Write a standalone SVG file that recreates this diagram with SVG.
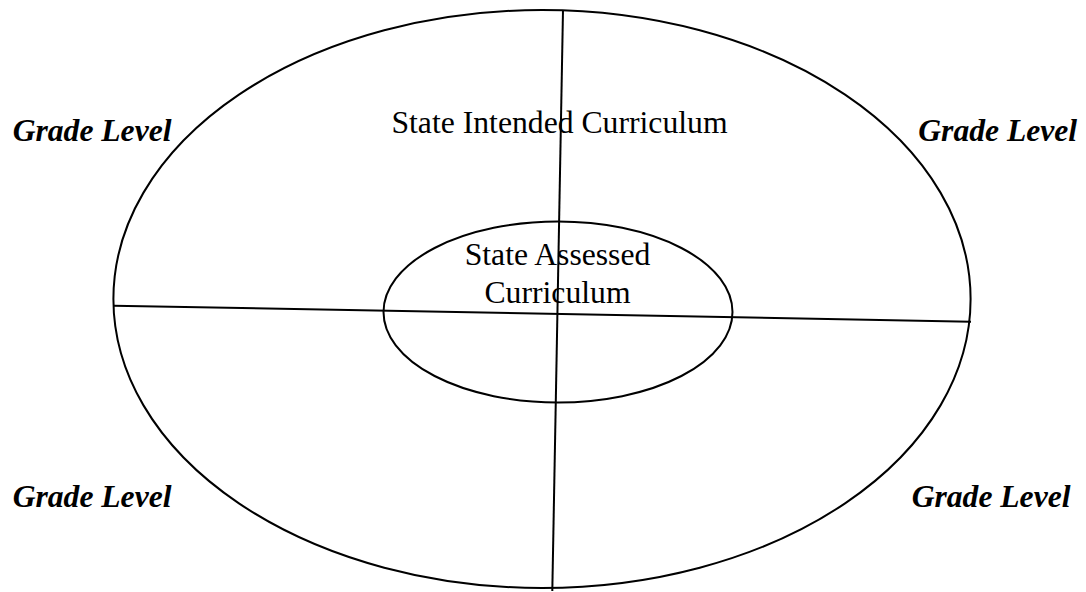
<svg xmlns="http://www.w3.org/2000/svg" width="1086" height="592" viewBox="0 0 1086 592">
<style>
.shape{fill:none;stroke:#000;stroke-width:2}
.lbl{font-family:"Liberation Serif","Times New Roman",serif;font-size:31.7px;fill:#000}
.grade{font-family:"Liberation Serif","Times New Roman",serif;font-size:31.6px;font-weight:bold;font-style:italic;fill:#000}
</style>
<rect width="1086" height="592" fill="#fff"/>
<g id="outer">
<ellipse class="shape" cx="542" cy="299" rx="428.6" ry="289"/>
<text class="lbl" x="559.5" y="132.7" text-anchor="middle">State Intended Curriculum</text>
</g>
<g id="inner">
<ellipse class="shape" cx="558" cy="312" rx="174.5" ry="90.5"/>
<text class="lbl" x="557.5" y="265" text-anchor="middle">State Assessed</text>
<text class="lbl" x="557.5" y="302.7" text-anchor="middle">Curriculum</text>
</g>
<g id="connectors">
<line class="shape" x1="563" y1="10" x2="552.3" y2="591"/>
<line class="shape" x1="113.5" y1="305.7" x2="971" y2="321.7"/>
</g>
<g id="grade-tl"><text class="grade" x="12.7" y="140.7">Grade Level</text></g>
<g id="grade-tr"><text class="grade" x="918.3" y="140.7">Grade Level</text></g>
<g id="grade-bl"><text class="grade" x="12.7" y="507.3">Grade Level</text></g>
<g id="grade-br"><text class="grade" x="911.7" y="507.3">Grade Level</text></g>
</svg>
